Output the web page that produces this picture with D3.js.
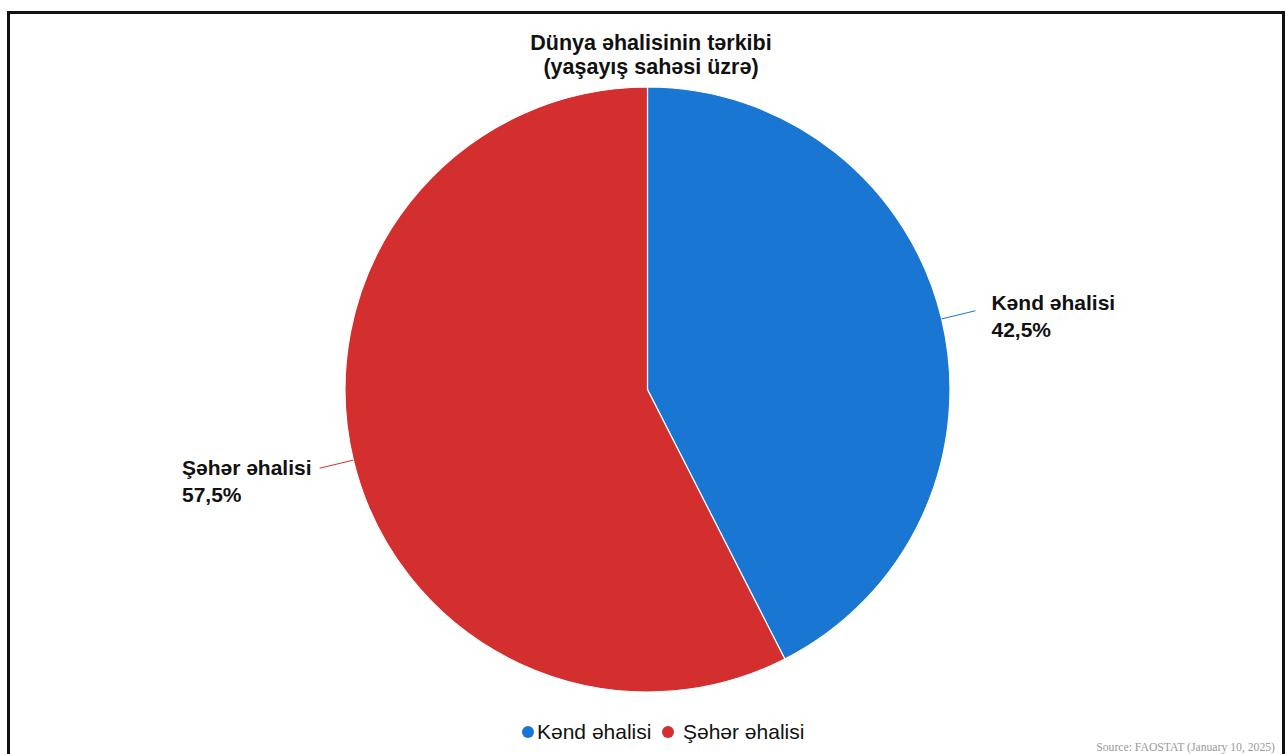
<!DOCTYPE html>
<html>
<head>
<meta charset="utf-8">
<script src="https://cdn.jsdelivr.net/npm/d3@7"></script>
<style>
  body { margin: 0; background: #fff; }
  svg { display: block; }
</style>
</head>
<body>
<div id="chart"></div>
<script>
// Dünya əhalisinin tərkibi - pie chart

const categories = ["Kənd əhalisi", "Şəhər əhalisi"];
const shares = [42.5, 57.5];
const colors = ["#1976D2", "#D32F2F"];
const titleLines = ["Dünya əhalisinin tərkibi", "(yaşayış sahəsi üzrə)"];
const sourceText = "Source: FAOSTAT (January 10, 2025)";

const width = 1286, height = 754;
const cx = 647.5, cy = 389.5, radius = 302.5;
const fontSans = "Arial, 'Liberation Sans', sans-serif";

const data = categories.map((c, i) => ({ name: c, value: shares[i], color: colors[i] }));

const svg = d3.select("#chart").append("svg")
  .attr("width", width)
  .attr("height", height);

// ── Frame ──────────────────────────────────────────────────────────────────
svg.append("rect")
  .attr("x", 8.5).attr("y", 12.5)
  .attr("width", 1275).attr("height", 760)
  .attr("fill", "none")
  .attr("stroke", "#111")
  .attr("stroke-width", 3);

// ── Title ──────────────────────────────────────────────────────────────────
titleLines.forEach((t, i) => {
  svg.append("text")
    .attr("x", 651)
    .attr("y", 50 + i * 24)
    .attr("text-anchor", "middle")
    .style("font-family", fontSans)
    .style("font-weight", "bold")
    .style("font-size", "21.5px")
    .style("fill", "#111")
    .text(t);
});

// ── Pie ────────────────────────────────────────────────────────────────────
const pie = d3.pie().value(d => d.value).sort(null);
const arc = d3.arc().innerRadius(0).outerRadius(radius);
const arcs = pie(data);

const g = svg.append("g").attr("transform", `translate(${cx},${cy})`);

g.selectAll("path.slice")
  .data(arcs)
  .join("path")
  .attr("class", "slice")
  .attr("d", arc)
  .attr("fill", d => d.data.color)
  .attr("stroke", "#fff")
  .attr("stroke-width", 1.2);

// ── Leader lines + labels ──────────────────────────────────────────────────
const fmt = v => d3.format(".1f")(v).replace(".", ",") + "%";

arcs.forEach(d => {
  const mid = (d.startAngle + d.endAngle) / 2;
  const sx = Math.sin(mid), sy = -Math.cos(mid);
  const p0 = [sx * radius, sy * radius];
  const p1 = [sx * radius * 1.115, sy * radius * 1.115];
  const right = sx > 0;

  g.append("line")
    .attr("x1", p0[0]).attr("y1", p0[1])
    .attr("x2", p1[0]).attr("y2", p1[1])
    .attr("stroke", d.data.color)
    .attr("stroke-width", 1);

  // labels are block-aligned: left edge of both lines shares one x
  const label = g.append("text")
    .attr("y", p1[1] + (right ? -1 : 7))
    .style("font-family", fontSans)
    .style("font-weight", "bold")
    .style("font-size", "21px")
    .style("fill", "#111");

  const nameSpan = label.append("tspan").attr("dy", 0).text(d.data.name);
  const pctSpan = label.append("tspan").attr("dy", 27).text(fmt(d.data.value));

  let lx;
  if (right) {
    lx = p1[0] + 16;
  } else {
    const w = nameSpan.node().getComputedTextLength();
    lx = p1[0] - 8 - w;
  }
  nameSpan.attr("x", lx);
  pctSpan.attr("x", lx);
});

// ── Legend ─────────────────────────────────────────────────────────────────
const legendItems = [
  { x: 528, tx: 537 },
  { x: 668, tx: 683 }
];
data.forEach((d, i) => {
  svg.append("circle")
    .attr("cx", legendItems[i].x)
    .attr("cy", 732)
    .attr("r", 6)
    .attr("fill", d.color);
  svg.append("text")
    .attr("x", legendItems[i].tx)
    .attr("y", 739)
    .style("font-family", fontSans)
    .style("font-size", "21px")
    .style("fill", "#111")
    .text(d.name);
});

// ── Source ─────────────────────────────────────────────────────────────────
svg.append("text")
  .attr("x", 1275)
  .attr("y", 751)
  .attr("text-anchor", "end")
  .style("font-family", "'Liberation Serif', 'Times New Roman', serif")
  .style("font-size", "11.7px")
  .style("fill", "#999")
  .text(sourceText);
</script>
</body>
</html>
